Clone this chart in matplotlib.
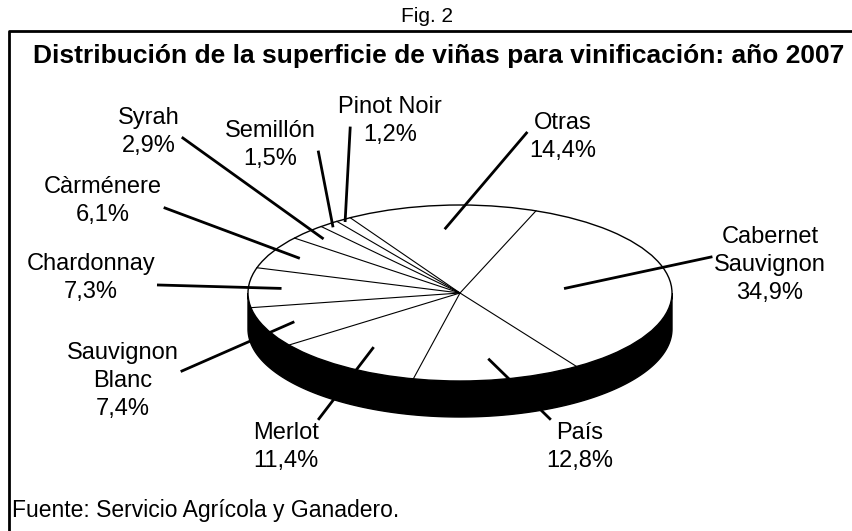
import numpy as np
import matplotlib.pyplot as plt
from matplotlib.patches import Polygon, Ellipse

plt.rcParams['font.family'] = ['Liberation Sans', 'DejaVu Sans']

# Data: share of vineyard area by variety (clockwise, starting with Cabernet)
varieties = ["Cabernet\nSauvignon", "País", "Merlot", "Sauvignon\nBlanc", "Chardonnay",
             "Càrménere", "Syrah", "Semillón", "Pinot Noir", "Otras"]
shares = [34.9, 12.8, 11.4, 7.4, 7.3, 6.1, 2.9, 1.5, 1.2, 14.4]

# Layout (pixel coordinates, y downwards)
cx, cy = 460, 293        # pie centre
ra, rb = 212, 88         # ellipse semi-axes
depth = 36               # thickness of the pie
start = 21               # first slice angle, degrees clockwise from 12 o'clock
label_pos = [(770, 265), (580, 447), (286, 447), (123, 381), (91, 278),
             (103, 201), (149, 132), (270, 145), (390, 121), (563, 137)]
leader_r = [0.5, 0.77, 0.75, 0.855, 0.85, 0.86, 0.9, 0.97, 0.985, 0.74]
# where each leader meets its label: box side and offset
leader_end = [("left", -8), ("top", 0.05), ("top", 1.0), ("right", -10), ("right", 7),
              ("right", 7), ("right", 6), ("right", 7), ("free", 7), ("left", -4)]


def rim(t, r=1.0, dy=0.0):
    t = np.radians(t)
    return cx + r * ra * np.sin(t), cy - r * rb * np.cos(t) + dy


fig = plt.figure(figsize=(8.52, 5.31), dpi=100)
ax = fig.add_axes([0, 0, 1, 1])
ax.set_xlim(0, 852)
ax.set_ylim(531, 0)
ax.axis("off")

# side wall (front half)
tt = np.linspace(90, 270, 200)
top = np.column_stack(rim(tt))
bot = np.column_stack(rim(tt[::-1], dy=depth))
ax.add_patch(Polygon(np.vstack([top, bot]), closed=True, facecolor="black",
                     edgecolor="black", lw=1, zorder=1))

# top face
ax.add_patch(Ellipse((cx, cy), 2 * ra, 2 * rb, facecolor="white",
                     edgecolor="black", lw=1, zorder=2))

bounds = start + 3.6 * np.concatenate([[0], np.cumsum(shares)])
for b in bounds[:-1]:
    x, y = rim(b)
    ax.plot([cx, x], [cy, y], color="black", lw=0.8, zorder=3)

fig.canvas.draw()
renderer = fig.canvas.get_renderer()
for i, (name, v) in enumerate(zip(varieties, shares)):
    mid = (bounds[i] + bounds[i + 1]) / 2
    x0, y0 = rim(mid, leader_r[i])
    lx, ly = label_pos[i]
    txt = name + "\n" + f"{v:.1f}".replace(".", ",") + "%"
    t = ax.text(lx, ly, txt, ha="center", va="center", fontsize=17,
                linespacing=1.38, zorder=5)
    bb = t.get_window_extent(renderer=renderer).transformed(ax.transData.inverted())
    xa, xb = sorted([bb.x0, bb.x1])
    ya, yb = sorted([bb.y0, bb.y1])
    side, off = leader_end[i]
    if side == "left":
        x1, y1 = xa - 3, ly + off
    elif side == "right":
        x1, y1 = xb + 3, ly + off
    elif side == "top":
        x1, y1 = xa + off * (xb - xa), ya - 3
    else:
        x1, y1 = x0 + 5, ly + off
    ax.plot([x0, x1], [y0, y1], color="black", lw=2, zorder=4)

# frame and titles
ax.plot([9, 9, 852], [531, 31, 31], color="black", lw=2, clip_on=False)
ax.text(427, 16, "Fig. 2", ha="center", va="center", fontsize=15)
ax.text(439, 56, "Distribución de la superficie de viñas para vinificación: año 2007",
        ha="center", va="center", fontsize=19, fontweight="bold")
ax.text(12, 511, "Fuente: Servicio Agrícola y Ganadero.", ha="left", va="center",
        fontsize=16.5)

fig.savefig("out.png", dpi=100)
